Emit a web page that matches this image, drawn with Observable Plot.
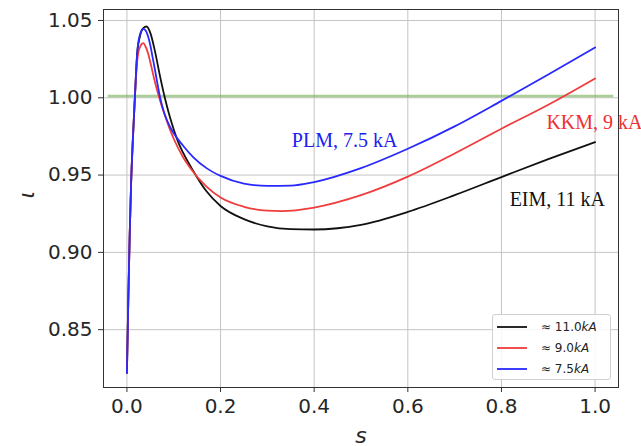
<!DOCTYPE html>
<html>
<head>
<meta charset="utf-8">
<script src="https://cdn.jsdelivr.net/npm/d3@7"></script>
<script src="https://cdn.jsdelivr.net/npm/@observablehq/plot@0.6"></script>
<style>
  html, body { margin: 0; padding: 0; background: #fff; }
  #wrap { position: relative; width: 641px; height: 446px; }
  #legend { position: absolute; left: 492px; top: 314px; width: 119px; height: 66px;
    border: 1px solid #d0d0d0; border-radius: 3px; background: rgba(255,255,255,0.85);
    font-family: "DejaVu Sans", sans-serif; font-size: 12px; color: #222; box-sizing: border-box; }
  .row { position: absolute; left: 4px; height: 14px; display: flex; align-items: center; }
  .row svg { margin-right: 14px; }
</style>
</head>
<body>
<div id="wrap"></div>
<script>
// ---- data ----
const sBlack = [0, 0.003, 0.006, 0.009, 0.013, 0.017, 0.022, 0.028, 0.035, 0.042, 0.05, 0.06, 0.07, 0.081, 0.09, 0.1, 0.11, 0.12, 0.142, 0.17, 0.2, 0.25, 0.3, 0.35, 0.4, 0.45, 0.5, 0.6, 0.7, 0.8, 0.9, 1.0];
const vBlack = [0.822, 0.87, 0.912, 0.945, 0.975, 1.0, 1.029, 1.040, 1.045, 1.0461, 1.042, 1.030, 1.015, 1.0, 0.9895, 0.9795, 0.971, 0.9645, 0.9525, 0.9395, 0.930, 0.9215, 0.9168, 0.9150, 0.9148, 0.9156, 0.9178, 0.9262, 0.937, 0.9487, 0.9603, 0.9713];

const sRed = [0, 0.003, 0.006, 0.009, 0.013, 0.017, 0.022, 0.028, 0.035, 0.04, 0.045, 0.05, 0.06, 0.07, 0.08, 0.09, 0.1, 0.12, 0.134, 0.17, 0.2, 0.25, 0.3, 0.33, 0.4, 0.5, 0.6, 0.7, 0.8, 0.9, 1.0];
const vRed = [0.822, 0.87, 0.912, 0.945, 0.975, 1.0, 1.024, 1.033, 1.0353, 1.033, 1.029, 1.023, 1.010, 0.999, 0.9895, 0.981, 0.9735, 0.9615, 0.955, 0.9425, 0.9355, 0.9295, 0.927, 0.9267, 0.929, 0.937, 0.949, 0.964, 0.980, 0.9955, 1.0125];

const sBlue = [0, 0.003, 0.006, 0.009, 0.013, 0.017, 0.022, 0.028, 0.035, 0.04, 0.045, 0.05, 0.055, 0.06, 0.065, 0.07, 0.075, 0.08, 0.09, 0.1, 0.12, 0.142, 0.17, 0.2, 0.25, 0.3, 0.35, 0.4, 0.5, 0.6, 0.7, 0.8, 0.9, 1.0];
const vBlue = [0.822, 0.87, 0.912, 0.945, 0.975, 1.0, 1.029, 1.041, 1.0446, 1.0435, 1.040, 1.034, 1.026, 1.018, 1.0095, 1.0015, 0.995, 0.990, 0.9825, 0.977, 0.969, 0.9615, 0.9545, 0.9495, 0.9445, 0.943, 0.9432, 0.9455, 0.9545, 0.967, 0.9815, 0.998, 1.015, 1.0325];

const seriesNames = ["≈ 11.0", "≈ 9.0", "≈ 7.5"];
const seriesColors = ["#111111", "#f03c3c", "#2828ff"];

const greenLevel = 1.0012;
const greenSpan = [-0.04, 1.04];

const labelTexts = ["PLM, 7.5 kA", "KKM, 9 kA", "EIM, 11 kA"];
const labelS = [0.465, 0.896, 0.8175];
const labelV = [0.968, 0.980, 0.9303];
const labelAnchors = ["middle", "start", "start"];
const labelColors = ["#2020ee", "#ee3030", "#111111"];

const xTicks = [0, 0.2, 0.4, 0.6, 0.8, 1.0];
const yTicks = [0.85, 0.90, 0.95, 1.00, 1.05];

// ---- build ----
const toRows = (s, v, k) => s.map((d, i) => ({s: d, v: v[i], k}));
const rows = [
  ...toRows(sBlack, vBlack, 0),
  ...toRows(sRed, vRed, 1),
  ...toRows(sBlue, vBlue, 2)
];
const labels = labelTexts.map((t, i) => ({t, s: labelS[i], v: labelV[i], a: labelAnchors[i], c: labelColors[i]}));
const labelMark = (anchor) => Plot.text(labels.filter(d => d.a === anchor), {
  x: "s", y: "v", text: "t", textAnchor: anchor, fill: d => d.c,
  lineAnchor: "bottom", fontSize: 20, fontFamily: "Liberation Serif"
});

const chart = Plot.plot({
  width: 641,
  height: 446,
  marginLeft: 103,
  marginRight: 23,
  marginTop: 9,
  marginBottom: 59,
  style: {fontFamily: "DejaVu Sans", background: "#fff", overflow: "visible"},
  x: {domain: [-0.05, 1.05]},
  y: {domain: [0.8126, 1.0571]},
  marks: [
    Plot.gridX(xTicks, {stroke: "#c4c4c4", strokeOpacity: 1, strokeWidth: 1}),
    Plot.gridY(yTicks, {stroke: "#c4c4c4", strokeOpacity: 1, strokeWidth: 1}),
    Plot.axisX(xTicks, {tickSize: 5, tickPadding: 6, tickFormat: d3.format(".1f"), fontSize: 20, fill: "#262626", stroke: "#333", label: null}),
    Plot.axisY(yTicks, {tickSize: 5, tickPadding: 6, tickFormat: d3.format(".2f"), fontSize: 20, fill: "#262626", stroke: "#333", label: null}),
    Plot.ruleY([greenLevel], {x1: greenSpan[0], x2: greenSpan[1], stroke: "#62a840", strokeWidth: 2.5, strokeOpacity: 0.55}),
    Plot.line(rows, {x: "s", y: "v", z: "k", stroke: d => seriesColors[d.k], strokeWidth: 1.8, curve: "monotone-x"}),
    labelMark("middle"),
    labelMark("start"),
    Plot.frame({stroke: "#333", strokeWidth: 1}),
    Plot.text(["ι"], {frameAnchor: "left", dx: -77, rotate: -90, fontSize: 22, fontStyle: "italic", fill: "#262626"}),
    Plot.text(["s"], {frameAnchor: "bottom", dy: 48, lineAnchor: "middle", fontSize: 22, fontStyle: "italic", fill: "#262626"})
  ]
});

const wrap = document.getElementById("wrap");
wrap.appendChild(chart);

// legend
const legend = document.createElement("div");
legend.id = "legend";
seriesNames.forEach((n, i) => {
  const r = document.createElement("div");
  r.className = "row";
  r.style.top = (5 + i * 21) + "px";
  r.innerHTML = `<svg width="30" height="4"><line x1="0" x2="30" y1="2" y2="2" stroke="${seriesColors[i]}" stroke-width="1.8"/></svg><span>${n}<i>kA</i></span>`;
  legend.appendChild(r);
});
wrap.appendChild(legend);
</script>
</body>
</html>
